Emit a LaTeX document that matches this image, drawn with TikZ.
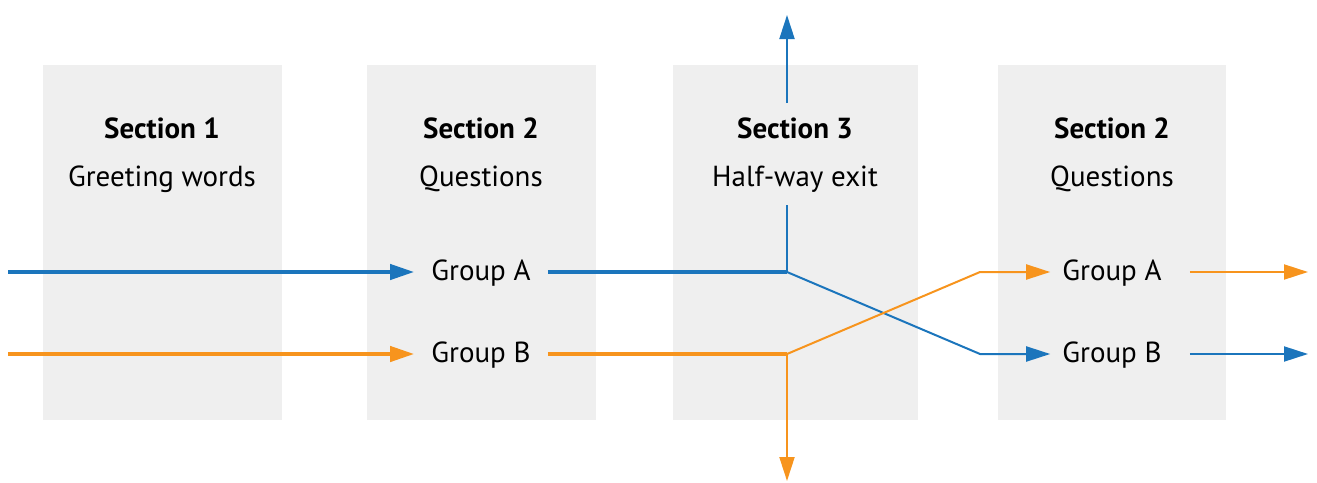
\documentclass[tikz,border=0pt]{standalone}
\usepackage{fontspec}
\setmainfont{PT Sans}
\usetikzlibrary{arrows.meta}
\definecolor{panel}{HTML}{EFEFEF}
\definecolor{flowA}{HTML}{1B75BC}
\definecolor{flowB}{HTML}{F7941D}
\begin{document}
\begin{tikzpicture}[x=1pt,y=-1pt,
  panelbox/.style={fill=panel,draw=none},
  title/.style={font=\fontsize{29}{34}\selectfont\bfseries},
  sub/.style={font=\fontsize{29}{34}\selectfont},
  grp/.style={font=\fontsize{29}{34}\selectfont,inner xsep=17pt,inner ysep=2pt},
  grpr/.style={font=\fontsize{29}{34}\selectfont,inner xsep=12pt,inner ysep=2pt},
  tip/.style={-{Triangle[length=24pt,width=15pt]}},
  heavy/.style={line width=4pt},
  light/.style={line width=2pt}]
\useasboundingbox (0,0) rectangle (1317,482);
% panels
\fill[panelbox] (43,65) rectangle (282,420);
\fill[panelbox] (367,65) rectangle (596,420);
\fill[panelbox] (673,65) rectangle (918,420);
\fill[panelbox] (998,65) rectangle (1226,420);
% headings
\node[title] (s1) at (162,128) {Section 1};
\node[sub] (d1) at (162,179) {Greeting words};
\node[title] (s2) at (481,128) {Section 2};
\node[sub] (d2) at (481,179) {Questions};
\node[title] (s3) at (795,128) {Section 3};
\node[sub] (d3) at (795,179) {Half-way exit};
\node[title] (s4) at (1112,128) {Section 2};
\node[sub] (d4) at (1112,179) {Questions};
% groups
\node[grp] (ga) at (481,273.5) {Group A};
\node[grp] (gb) at (481,355.5) {Group B};
\node[grpr] (ga2) at (1112,273.5) {Group A};
\node[grpr] (gb2) at (1112,355.5) {Group B};
% junction points
\coordinate (inA) at (8,272);
\coordinate (inB) at (8,354);
\coordinate (jA) at (787,272);
\coordinate (jB) at (787,354);
\coordinate (upA) at (787,205);
\coordinate (upB) at (787,103);
\coordinate (upC) at (787,15);
\coordinate (dnB) at (787,481);
\coordinate (kA) at (980,354);
\coordinate (kB) at (980,272);
\coordinate (outA) at (1308,354);
\coordinate (outB) at (1308,272);
% group A (blue)
\draw[flowA,heavy,tip] (inA) -- (inA -| ga.west);
\draw[flowA,heavy] (ga.east |- jA) -- (jA);
\draw[flowA,light] (jA) -- (upA);
\draw[flowA,light,tip] (upB) -- (upC);
\draw[flowA,light,tip] (jA) -- (kA) -- (kA -| gb2.west);
\draw[flowA,light,tip] ([xshift=16pt]gb2.east |- outA) -- (outA);
% group B (orange)
\draw[flowB,heavy,tip] (inB) -- (inB -| gb.west);
\draw[flowB,heavy] (gb.east |- jB) -- (jB);
\draw[flowB,light,tip] (jB) -- (dnB);
\draw[flowB,light,tip] (jB) -- (kB) -- (kB -| ga2.west);
\draw[flowB,light,tip] ([xshift=16pt]ga2.east |- outB) -- (outB);
\end{tikzpicture}
\end{document}
